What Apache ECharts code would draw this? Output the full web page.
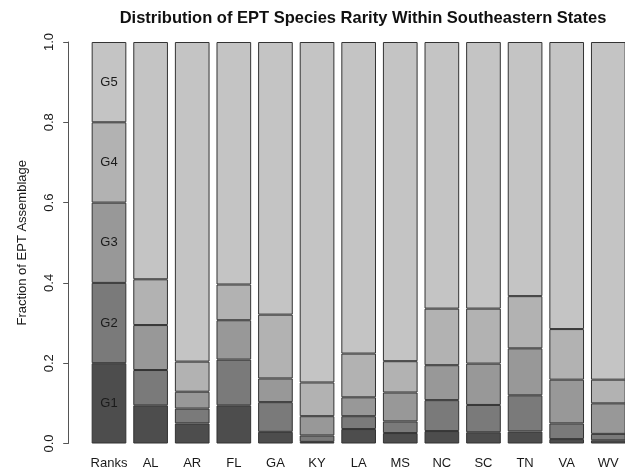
<!DOCTYPE html>
<html>
<head>
<meta charset="utf-8">
<script src="https://cdn.jsdelivr.net/npm/echarts@6/dist/echarts.min.js"></script>
<style>
  html, body { margin: 0; padding: 0; background: #ffffff; }
  #chart { width: 625px; height: 469px; }
</style>
</head>
<body>
<div id="chart"></div>
<script>
// Categories: the reference "Ranks" bar followed by each state
const categories = ['Ranks', 'AL', 'AR', 'FL', 'GA', 'KY', 'LA', 'MS', 'NC', 'SC', 'TN', 'VA', 'WV'];

// Fraction of the EPT assemblage in each global rarity rank
const g1 = [0.2, 0.095, 0.050, 0.095, 0.029, 0.004, 0.036, 0.026, 0.031, 0.028, 0.030, 0.011, 0.008];
const g2 = [0.2, 0.088, 0.037, 0.114, 0.074, 0.016, 0.032, 0.029, 0.077, 0.068, 0.090, 0.039, 0.016];
const g3 = [0.2, 0.112, 0.042, 0.098, 0.059, 0.048, 0.047, 0.072, 0.087, 0.103, 0.117, 0.109, 0.076];
const g4 = [0.2, 0.114, 0.075, 0.089, 0.159, 0.084, 0.109, 0.078, 0.141, 0.137, 0.130, 0.126, 0.059];
const g5 = [0.2, 0.591, 0.796, 0.604, 0.679, 0.848, 0.776, 0.795, 0.664, 0.664, 0.633, 0.715, 0.841];

const rankNames = ['G1', 'G2', 'G3', 'G4', 'G5'];
const rankValues = [g1, g2, g3, g4, g5];
const rankColors = ['#4d4d4d', '#7a7a7a', '#989898', '#b2b2b2', '#c4c4c4'];

// Y axis ticks
const yTicks = [0, 0.2, 0.4, 0.6, 0.8, 1.0];

const FONT = 'Liberation Sans, Arial, Helvetica, sans-serif';

const series = rankNames.map((name, i) => ({
  name: name,
  type: 'bar',
  stack: 'total',
  barCategoryGap: '16.667%',
  itemStyle: { color: rankColors[i], borderColor: '#333', borderWidth: 1 },
  label: {
    show: true,
    position: 'inside',
    fontFamily: FONT,
    fontSize: 13,
    color: '#1a1a1a',
    formatter: p => (p.dataIndex === 0 ? name : '')
  },
  emphasis: { disabled: true },
  data: rankValues[i]
}));

const chart = echarts.init(document.getElementById('chart'), null, { renderer: 'canvas' });
chart.setOption({
  animation: false,
  backgroundColor: '#ffffff',
  title: {
    text: 'Distribution of EPT Species Rarity Within Southeastern States',
    left: 358,
    top: 5,
    textAlign: 'center',
    textStyle: { fontFamily: FONT, fontSize: 16.5, fontWeight: 'bold', color: '#111' }
  },
  // the last bar runs past the right edge of the canvas
  grid: { left: 88.2, right: -4.1, top: 42, bottom: 25.5, containLabel: false, outerBoundsMode: 'none' },
  xAxis: {
    type: 'category',
    data: categories,
    axisLine: { show: false },
    axisTick: { show: false },
    axisLabel: { fontFamily: FONT, fontSize: 13, color: '#1a1a1a', margin: 13, interval: 0 }
  },
  yAxis: {
    type: 'value',
    min: 0,
    max: 1,
    interval: 0.2,
    offset: 20,
    name: 'Fraction of EPT Assemblage',
    nameLocation: 'middle',
    nameGap: 39,
    nameTextStyle: { fontFamily: FONT, fontSize: 13, color: '#1a1a1a' },
    axisLine: { show: true, lineStyle: { color: '#555', width: 1 } },
    axisTick: { show: true, length: 5, lineStyle: { color: '#555' } },
    splitLine: { show: false },
    axisLabel: {
      rotate: 90,
      fontFamily: FONT,
      fontSize: 13,
      color: '#1a1a1a',
      margin: 12,
      formatter: v => {
        const t = yTicks.find(k => Math.abs(k - v) < 1e-9);
        return t === undefined ? '' : t.toFixed(1);
      }
    }
  },
  series: series
});
</script>
</body>
</html>
